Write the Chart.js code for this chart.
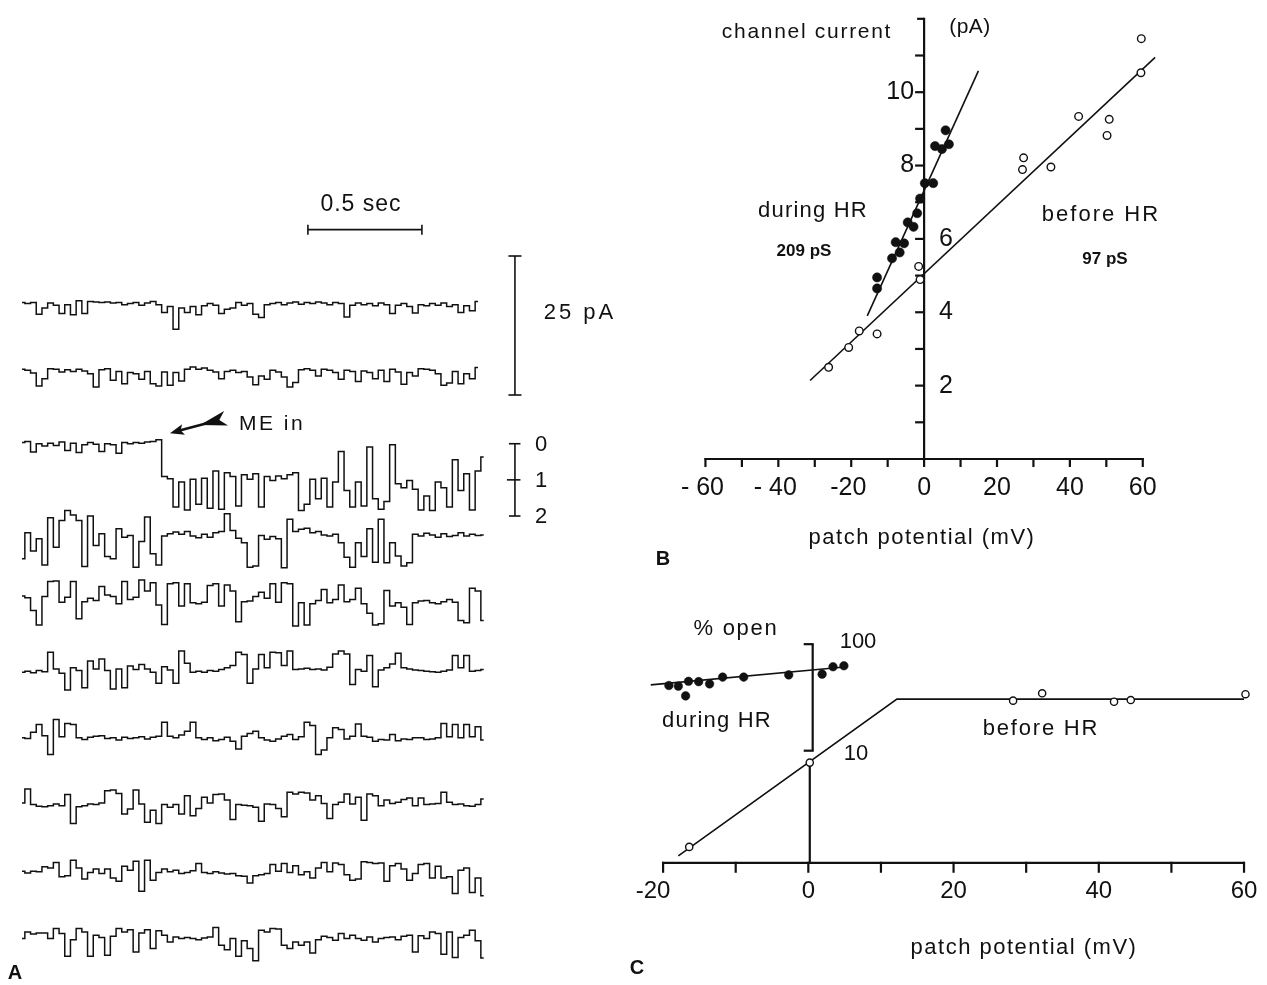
<!DOCTYPE html>
<html>
<head>
<meta charset="utf-8">
<title>Single channel currents before and during HR</title>
<script src="https://cdn.jsdelivr.net/npm/chart.js@4.4.1/dist/chart.umd.min.js"></script>
<style>
  html, body { margin:0; padding:0; background:#fff; }
  #fig { position:relative; width:1267px; height:985px; overflow:hidden; background:#fff;
         font-family:"Liberation Sans", Arial, sans-serif; color:#111; }
  #fig canvas { position:absolute; }
  .t { position:absolute; white-space:nowrap; line-height:1; transform:translate(-50%,-50%); }
  .b { font-weight:bold; }
</style>
</head>
<body>
<div id="fig">
  <canvas id="cA" width="640" height="805" style="left:0;top:180px;"></canvas>
  <canvas id="cB" width="607" height="560" style="left:660px;top:0;"></canvas>
  <canvas id="cC" width="647" height="385" style="left:620px;top:600px;"></canvas>

  <!-- Panel A texts -->
  <div class="t" style="left:361px;top:203px;font-size:23px;letter-spacing:1px;">0.5 sec</div>
  <div class="t" style="left:580px;top:312px;font-size:22px;letter-spacing:3px;">25 pA</div>
  <div class="t" style="left:272px;top:422px;font-size:21px;letter-spacing:2.5px;">ME in</div>
  <div class="t" style="left:541px;top:444px;font-size:22px;">0</div>
  <div class="t" style="left:541px;top:480px;font-size:22px;">1</div>
  <div class="t" style="left:541px;top:516px;font-size:22px;">2</div>
  <div class="t b" style="left:15px;top:972px;font-size:20px;">A</div>

  <!-- Panel B texts -->
  <div class="t" style="left:807px;top:30px;font-size:21px;letter-spacing:1.7px;">channel current</div>
  <div class="t" style="left:970px;top:25px;font-size:21px;letter-spacing:0.5px;">(pA)</div>
  <div class="t" style="left:813px;top:210px;font-size:22px;letter-spacing:1.2px;">during HR</div>
  <div class="t b" style="left:804px;top:250px;font-size:17px;">209 pS</div>
  <div class="t" style="left:1101px;top:214px;font-size:22px;letter-spacing:2px;">before HR</div>
  <div class="t b" style="left:1105px;top:258px;font-size:17px;">97 pS</div>
  <div class="t" style="left:922px;top:537px;font-size:22px;letter-spacing:1.5px;">patch potential (mV)</div>
  <div class="t b" style="left:663px;top:558px;font-size:20px;">B</div>

  <!-- Panel C texts -->
  <div class="t" style="left:736px;top:628px;font-size:22px;letter-spacing:1.7px;">% open</div>
  <div class="t" style="left:858px;top:641px;font-size:22px;">100</div>
  <div class="t" style="left:856px;top:753px;font-size:22px;">10</div>
  <div class="t" style="left:717px;top:720px;font-size:22px;letter-spacing:1.2px;">during HR</div>
  <div class="t" style="left:1041px;top:728px;font-size:22px;letter-spacing:1.8px;">before HR</div>
  <div class="t" style="left:1024px;top:947px;font-size:22px;letter-spacing:1.5px;">patch potential (mV)</div>
  <div class="t b" style="left:637px;top:967px;font-size:20px;">C</div>
</div>

<script>
// ================= DATA =================
// Panel A: single-channel current traces (pA deviation from each sweep's resting level), sampled every traceDt seconds
const traceDt = 0.025;
const trace1 = [0.2,0.0,0.2,-1.9,-0.8,0.1,-0.3,-1.8,-0.2,-2.0,
  0.5,-1.8,0.4,0.3,0.2,0.3,0.1,0.2,-0.2,0.0,
  0.2,-0.3,0.1,0.4,-0.2,-1.6,-0.5,-4.6,-0.8,-1.6,
  -0.5,-2.0,-0.4,0.0,-0.3,-1.8,-1.0,-0.8,0.2,-0.3,
  0.0,-1.9,-2.5,-0.2,0.0,0.2,-0.2,0.1,0.3,-0.1,
  0.2,0.0,0.3,0.1,-0.2,0.2,0.0,-2.4,-0.3,0.1,
  -0.2,0.0,-0.4,0.1,-0.2,-1.8,-0.3,0.0,-0.5,-1.7,
  -0.2,-0.4,0.0,-0.3,0.1,-0.5,-0.2,-1.6,-0.4,-1.3,
  0.4];
const trace2 = [0.2,0.0,-0.5,-2.8,-1.5,0.3,0.2,-0.3,0.1,-0.2,
  0.2,-0.1,-0.6,-3.0,0.1,0.3,-1.8,-0.2,-2.4,-0.4,
  -0.6,-1.6,-0.2,-2.4,-2.8,-0.3,-2.7,-0.4,-1.9,0.2,
  0.6,0.2,0.4,0.0,-0.3,-1.5,-0.2,0.0,-0.4,-0.2,
  -1.2,-2.6,-1.0,-1.6,0.0,-0.3,-1.2,-3.0,-2.2,0.1,
  0.3,0.0,-1.0,0.2,0.0,-0.4,-1.6,0.0,-0.2,-2.0,
  -0.1,-0.4,-1.5,0.0,-2.0,0.2,-0.3,-2.5,-0.4,-1.0,
  0.3,0.2,0.0,-0.6,-2.7,-2.3,-0.2,-2.4,-0.6,-1.5,
  0.5];
const trace3 = [-0.4,-0.2,-2.1,-0.6,-1.0,-0.5,-0.9,-0.3,-1.8,-0.5,
  -2.2,-0.8,-0.4,-0.7,-2.0,-0.6,-0.8,-2.3,-0.4,-0.6,
  -0.4,-0.5,-0.3,-0.2,0.1,-6.5,-6.9,-12.0,-7.5,-12.5,
  -7.0,-11.5,-6.8,-12.2,-5.5,-12.4,-5.8,-6.5,-11.8,-6.2,
  -7.0,-6.0,-12.0,-6.5,-7.2,-6.4,-6.9,-6.2,-5.8,-12.6,
  -11.5,-7.0,-10.5,-6.8,-12.0,-7.5,-2.0,-9.0,-12.0,-7.5,
  -11.8,-1.2,-10.5,-12.4,-11.0,-0.8,-7.8,-8.5,-7.2,-8.8,
  -12.5,-10.0,-12.6,-7.5,-8.5,-12.0,-3.5,-9.0,-6.0,-12.5,
  -5.5,-3.0];
const trace4 = [-3.9,0.8,-2.5,-0.3,-5.0,3.5,-1.8,3.0,4.8,4.0,
  3.0,-5.3,3.8,-1.5,0.6,-3.5,-3.9,1.5,0.0,0.3,
  -5.4,-0.8,3.6,-3.0,-5.0,0.2,0.6,0.9,0.5,1.0,
  0.2,-0.1,0.5,0.0,0.8,1.0,4.2,1.2,-0.2,-1.0,
  -5.4,-5.2,0.3,-0.4,0.1,-0.3,-5.5,3.2,1.0,1.4,
  1.6,0.8,1.0,0.4,0.2,0.5,-1.0,-3.6,-5.4,-1.0,
  -3.5,1.5,-4.5,3.2,-4.6,-1.0,-3.4,-5.2,-4.6,0.5,
  0.2,0.7,0.4,0.0,0.6,0.1,0.3,0.8,0.2,0.5,
  0.3,0.4];
const trace5 = [0.6,0.3,-2.0,-4.6,0.5,3.2,3.3,-0.5,0.4,3.2,
  -3.5,-0.4,0.2,-0.2,2.3,0.8,0.5,-0.8,3.2,0.0,
  0.4,3.5,1.5,3.0,-1.0,-4.5,2.8,3.0,-1.2,2.8,
  -0.6,-0.8,-0.5,2.5,2.8,-1.2,2.6,1.5,-4.0,-0.4,
  -0.3,0.5,1.3,0.2,2.8,-0.5,3.0,2.8,-4.8,-0.6,
  -4.6,-0.8,-0.2,1.8,-0.6,0.0,2.6,-0.4,0.0,2.0,
  -0.8,-2.5,-4.6,-4.4,1.6,-1.2,-0.6,-1.4,-4.5,-0.6,
  -0.3,-0.2,-0.6,-0.8,-0.4,0.0,-0.5,-3.8,-4.2,2.0,
  1.5,-3.8];
const trace6 = [0.0,0.2,-0.1,0.3,0.1,3.6,0.6,-0.2,-3.2,0.8,
  0.3,-2.8,2.0,0.6,2.4,0.3,-3.0,0.6,-2.8,1.1,
  0.5,1.4,0.6,0.0,-2.0,1.0,0.4,-2.0,3.8,1.6,
  0.0,0.2,0.0,0.3,0.2,0.5,0.8,1.2,3.6,3.2,
  -2.0,0.6,3.2,0.8,3.6,3.5,1.2,3.8,0.5,0.6,
  0.7,0.5,0.6,0.4,0.9,3.3,3.8,3.3,-2.2,0.5,
  0.2,3.0,-2.6,0.4,0.8,1.5,3.4,0.8,0.6,0.4,
  0.3,0.2,0.1,0.0,0.2,0.4,3.0,0.8,3.0,0.2,
  0.3,0.5];
const trace7 = [0.0,-0.1,1.0,2.4,0.4,-3.0,3.3,0.2,2.6,2.4,
  0.0,-0.3,0.1,0.3,0.4,-0.1,0.0,-0.4,0.1,-0.1,
  0.0,0.2,-0.2,0.1,0.3,2.8,0.3,0.0,0.5,1.2,
  2.8,0.0,-0.3,0.0,-0.5,-0.3,0.1,-0.6,-2.0,0.3,
  0.8,1.2,0.0,-0.4,-0.6,-0.2,0.3,0.6,-0.3,0.2,
  2.8,2.2,-3.0,-2.2,0.0,1.8,1.5,-0.2,0.3,2.5,
  0.3,0.1,-0.6,-0.3,-0.4,0.6,-0.5,-0.2,-0.3,0.0,
  0.0,-0.3,-0.2,0.0,2.6,0.2,2.4,0.0,2.4,0.2,
  2.0,-0.4];
const trace8 = [0.5,3.0,0.2,-0.1,-0.2,0.0,0.3,0.0,2.0,-3.2,
  -0.2,0.0,0.3,0.2,0.5,2.7,2.8,2.2,-1.5,-0.6,
  2.8,0.3,-3.0,-0.8,-3.2,0.2,-0.3,0.2,-1.5,1.8,
  -1.8,-0.5,1.5,0.5,2.0,2.1,1.0,-2.5,0.2,0.1,
  0.0,-0.3,-2.8,0.3,0.2,-0.5,-2.0,2.4,2.1,2.4,
  2.3,1.0,1.8,0.4,-2.3,0.2,0.6,2.1,0.3,1.5,
  -2.6,2.1,1.8,0.0,1.0,0.4,0.6,1.1,1.4,0.0,
  1.4,0.2,0.3,0.4,2.4,0.6,0.2,0.3,0.0,-0.1,
  0.2,1.2];
const trace9 = [0.6,0.3,0.6,0.5,1.4,1.2,2.2,-0.4,-0.2,2.6,
  1.2,-0.8,0.4,1.0,0.2,1.0,-0.6,-1.2,1.5,0.8,
  2.4,-3.0,2.6,-1.0,0.4,1.0,0.5,0.8,0.2,0.4,
  0.7,2.0,0.4,0.2,0.5,0.3,0.1,0.2,-0.2,-0.3,
  -1.5,-0.2,0.0,0.2,1.8,0.6,2.0,0.4,1.6,0.0,
  0.5,-0.6,1.2,2.2,0.5,2.1,1.8,0.0,-1.0,-0.8,
  2.3,2.2,2.0,2.1,-1.2,1.6,2.0,1.0,-1.0,0.2,
  1.8,2.0,-0.6,1.5,-0.6,-0.4,-3.4,0.8,1.2,-3.2,
  -0.6,-3.8];
const trace10 = [0.0,1.2,0.8,1.0,1.0,0.0,1.8,0.9,-3.2,-0.2,
  1.8,1.2,-3.2,0.6,0.2,-3.0,0.4,1.8,1.2,1.6,
  -2.4,1.0,1.6,-1.8,1.4,0.6,-0.6,0.3,0.0,0.2,
  0.0,-0.2,0.1,0.3,2.0,-1.2,-2.0,0.0,-3.2,-0.4,
  -1.8,-4.0,1.5,1.2,1.8,1.7,-1.2,-1.8,-0.6,-1.2,
  -0.6,-2.6,-0.2,0.4,0.2,-0.3,0.9,0.0,0.6,0.0,
  -0.3,0.3,-0.6,0.0,0.2,0.3,-0.2,0.4,0.6,-2.4,
  0.5,0.0,1.2,0.9,-2.8,1.2,-3.4,0.2,0.6,1.5,
  -0.4,-3.5];
const timeBarSeconds = 0.5;
const currentBarPA = 25;
const channelLevels = [0, 1, 2];
const unitaryCurrentPA = 6.5;

// Panel B: channel current (pA) vs patch potential (mV)
const bDuringX = [-12.9,-12.9,-8.8,-7.8,-6.7,-5.5,-4.5,-2.9,-1.9,-1.1,0.2,2.5,3.0,4.9,5.9,6.8];
const bDuringY = [4.95,4.65,5.47,5.91,5.63,5.88,6.45,6.33,6.70,7.10,7.52,7.52,8.53,8.45,8.96,8.58];
const bBeforeX = [-26.2,-20.7,-17.8,-12.9,-1.5,-1.1,27.0,27.3,34.8,42.4,50.2,50.8,59.5,59.6];
const bBeforeY = [2.50,3.04,3.49,3.41,5.25,4.89,7.89,8.21,7.96,9.34,8.82,9.26,10.53,11.46];
const bDuringFitX = [-15.6, 14.9];
const bDuringFitY = [3.90, 10.58];
const bBeforeFitX = [-31.3, 63.4];
const bBeforeFitY = [2.14, 10.95];
const bXTicks = [-60,-50,-40,-30,-20,-10,0,10,20,30,40,50,60];
const bXLabelValues = [-60,-40,-20,0,20,40,60];
const bXLabels = ['- 60','- 40','-20','0','20','40','60'];
const bYTicks = [1,2,3,4,5,6,7,8,9,10,11,12];
const bYLabelValues = [2,4,6,8,10];
const bYAxisTop = 12.03;

// Panel C: % open (log) vs patch potential (mV)
const cDuringX = [-19.2,-17.9,-16.9,-16.5,-15.1,-13.6,-11.8,-8.9,-2.7,1.9,3.4,4.9];
const cDuringY = [40.9,40.4,32.7,44.8,44.5,42.4,49.1,49.1,51.5,52.3,61.4,62.7];
const cBeforeX = [-16.4,0.2,28.2,32.2,42.1,44.4,60.2];
const cBeforeY = [1.25,7.73,29.5,34.6,28.8,29.9,33.9];
const cBeforeFitX = [-17.9, 12.2, 60.0];
const cBeforeFitY = [1.03, 30.5, 30.5];
const cDuringFitX = [-21.7, 5.0];
const cDuringFitY = [41.5, 61.0];
const cXTicks = [-20,-10,0,10,20,30,40,50,60];
const cXLabelValues = [-20,0,20,40,60];
const cXLabels = ['-20','0','20','40','60'];
const cBracketValues = [10, 100];
const cAxisCross = 0.887;

// ================= LAYOUT =================
const layoutA = {
  x: [-0.0965, 2.7105], y: [-122.55, 22.23],
  sweepOffsets: [0, -12.0, -24.6, -42.0, -53.2, -66.3, -78.1, -90.3, -102.7, -114.2],
  timeBar: { t0: 1.254, v: 13.3 },
  currentBar: { t: 2.162, vTop: 8.56 },
  levelBar: { t: 2.162, v0: -25.2 },
  arrow: { tipT: 0.649, tipV: -23.3, tailT: 0.895, tailV: -20.6 }
};
const layoutB = { x: [-70.99, 92.61], y: [-2.607, 12.366] };
const layoutC = { x: [-25.19, 62.42], y: [0.0710, 231.2], bracketX: 0.6, stemX: 0.2 };

// ================= HELPERS =================
const INK = '#111';
function zipXY(xs, ys) { return xs.map((x, i) => ({ x: x, y: ys[i] })); }
function seg(ctx, x1, y1, x2, y2) { ctx.beginPath(); ctx.moveTo(x1, y1); ctx.lineTo(x2, y2); ctx.stroke(); }
function baseOptions(xr, yr, ytype) {
  return {
    responsive: false, maintainAspectRatio: false, animation: false, events: [],
    devicePixelRatio: 1, layout: { padding: 0 },
    plugins: { legend: { display: false }, tooltip: { enabled: false }, title: { display: false } },
    scales: {
      x: { type: 'linear', display: false, min: xr[0], max: xr[1] },
      y: { type: ytype || 'linear', display: false, min: yr[0], max: yr[1] }
    }
  };
}
function fitLine(xs, ys) {
  return { data: zipXY(xs, ys), showLine: true, pointRadius: 0, borderColor: INK, borderWidth: 1.6, order: 3 };
}
function filledPts(xs, ys, r) {
  return { data: zipXY(xs, ys), showLine: false, pointRadius: r, pointBackgroundColor: INK,
           pointBorderColor: INK, pointBorderWidth: 0.5, order: 1 };
}
function openPts(xs, ys, r) {
  return { data: zipXY(xs, ys), showLine: false, pointRadius: r, pointBackgroundColor: '#fff',
           pointBorderColor: INK, pointBorderWidth: 1.4, order: 1 };
}

// ================= PANEL A =================
const traces = [trace1, trace2, trace3, trace4, trace5, trace6, trace7, trace8, trace9, trace10];
const panelAPlugin = {
  id: 'panelA',
  afterDatasetsDraw(chart) {
    const ctx = chart.ctx, sx = chart.scales.x, sy = chart.scales.y;
    const X = v => sx.getPixelForValue(v), Y = v => sy.getPixelForValue(v);
    ctx.save();
    ctx.strokeStyle = INK; ctx.fillStyle = INK; ctx.lineWidth = 1.6;
    // time scale bar
    const tb = layoutA.timeBar;
    const tx0 = X(tb.t0), tx1 = X(tb.t0 + timeBarSeconds), ty = Y(tb.v);
    seg(ctx, tx0, ty, tx1, ty); seg(ctx, tx0, ty - 5, tx0, ty + 5); seg(ctx, tx1, ty - 5, tx1, ty + 5);
    // current scale bar
    const cb = layoutA.currentBar;
    const cx = X(cb.t), cy0 = Y(cb.vTop), cy1 = Y(cb.vTop - currentBarPA);
    seg(ctx, cx, cy0, cx, cy1); seg(ctx, cx - 6.5, cy0, cx + 6.5, cy0); seg(ctx, cx - 6.5, cy1, cx + 6.5, cy1);
    // channel level bar (0,1,2)
    const lb = layoutA.levelBar;
    const lx = X(lb.t);
    const lys = channelLevels.map(n => Y(lb.v0 - n * unitaryCurrentPA));
    seg(ctx, lx, lys[0], lx, lys[lys.length - 1]);
    lys.forEach((y, i) => { const w = (i === 1) ? 8 : 6; seg(ctx, lx - w, y, lx + 5.5, y); });
    // ME in arrow
    const a = layoutA.arrow;
    const ax = X(a.tipT), ay = Y(a.tipV), bx = X(a.tailT), by = Y(a.tailV);
    const L = Math.hypot(bx - ax, by - ay), ux = (bx - ax) / L, uy = (by - ay) / L, nx = -uy, ny = ux;
    ctx.lineWidth = 2.6;
    seg(ctx, ax + ux * 8, ay + uy * 8, bx - ux * 16, by - uy * 16);
    ctx.beginPath();
    ctx.moveTo(ax, ay);
    ctx.lineTo(ax + ux * 14 + nx * 5.5, ay + uy * 14 + ny * 5.5);
    ctx.lineTo(ax + ux * 11, ay + uy * 11);
    ctx.lineTo(ax + ux * 14 - nx * 5.5, ay + uy * 14 - ny * 5.5);
    ctx.closePath(); ctx.fill();
    ctx.beginPath();
    ctx.moveTo(bx - ux * 27, by - uy * 27);
    ctx.lineTo(bx + nx * 7.5, by + ny * 7.5);
    ctx.lineTo(bx - ux * 7, by - uy * 7);
    ctx.lineTo(bx - nx * 7.5, by - ny * 7.5);
    ctx.closePath(); ctx.fill();
    ctx.restore();
  }
};
new Chart(document.getElementById('cA'), {
  type: 'scatter',
  data: {
    datasets: traces.map((tr, k) => ({
      data: tr.map((v, i) => ({ x: i * traceDt, y: v + layoutA.sweepOffsets[k] })),
      showLine: true, pointRadius: 0, borderColor: INK, borderWidth: 1.5,
      borderJoinStyle: 'miter', stepped: 'middle', tension: 0
    }))
  },
  options: baseOptions(layoutA.x, layoutA.y),
  plugins: [panelAPlugin]
});

// ================= PANEL B =================
const panelBPlugin = {
  id: 'panelB',
  beforeDatasetsDraw(chart) {
    const ctx = chart.ctx, sx = chart.scales.x, sy = chart.scales.y;
    const X = v => sx.getPixelForValue(v), Y = v => sy.getPixelForValue(v);
    ctx.save();
    ctx.strokeStyle = INK; ctx.fillStyle = INK; ctx.lineWidth = 2.2; ctx.lineCap = 'butt';
    const x0 = X(0), y0 = Y(0);
    seg(ctx, X(bXTicks[0]) - 1, y0, X(bXTicks[bXTicks.length - 1]) + 1, y0);
    bXTicks.forEach(v => seg(ctx, X(v), y0 - 1, X(v), y0 + 8));
    seg(ctx, x0, y0, x0, Y(bYAxisTop));
    bYTicks.forEach(v => seg(ctx, x0 - (v === 12 ? 7 : 9), Y(v), x0, Y(v)));
    ctx.font = '25px "Liberation Sans", Arial, sans-serif';
    ctx.textBaseline = 'middle'; ctx.textAlign = 'center';
    bXLabelValues.forEach((v, i) => ctx.fillText(bXLabels[i], X(v) - (v < 0 ? 3 : 0), y0 + 29));
    bYLabelValues.forEach(v => {
      if (v >= 8) { ctx.textAlign = 'right'; ctx.fillText(String(v), x0 - 10, Y(v)); }
      else { ctx.textAlign = 'left'; ctx.fillText(String(v), x0 + 15, Y(v)); }
    });
    ctx.restore();
  }
};
new Chart(document.getElementById('cB'), {
  type: 'scatter',
  data: {
    datasets: [
      filledPts(bDuringX, bDuringY, 4.6),
      openPts(bBeforeX, bBeforeY, 3.8),
      fitLine(bDuringFitX, bDuringFitY),
      fitLine(bBeforeFitX, bBeforeFitY)
    ]
  },
  options: baseOptions(layoutB.x, layoutB.y),
  plugins: [panelBPlugin]
});

// ================= PANEL C =================
const panelCPlugin = {
  id: 'panelC',
  beforeDatasetsDraw(chart) {
    const ctx = chart.ctx, sx = chart.scales.x, sy = chart.scales.y;
    const X = v => sx.getPixelForValue(v), Y = v => sy.getPixelForValue(v);
    ctx.save();
    ctx.strokeStyle = INK; ctx.fillStyle = INK; ctx.lineWidth = 2.2; ctx.lineCap = 'butt';
    const y0 = Y(cAxisCross);
    seg(ctx, X(cXTicks[0]) - 1, y0, X(cXTicks[cXTicks.length - 1]) + 1, y0);
    cXTicks.forEach(v => seg(ctx, X(v), y0 - 1, X(v), y0 + 10));
    // lower stem from the 0 mV point down to the axis
    seg(ctx, X(layoutC.stemX), Y(cBeforeY[1]), X(layoutC.stemX), y0);
    // 10-100 % bracket
    const bxp = X(layoutC.bracketX);
    seg(ctx, bxp, Y(cBracketValues[0]), bxp, Y(cBracketValues[1]));
    cBracketValues.forEach(v => seg(ctx, bxp - 9, Y(v), bxp + 1, Y(v)));
    ctx.font = '24px "Liberation Sans", Arial, sans-serif';
    ctx.textBaseline = 'middle'; ctx.textAlign = 'center';
    cXLabelValues.forEach((v, i) => ctx.fillText(cXLabels[i], X(v) - (v < 0 ? 10 : 0), y0 + 29));
    ctx.restore();
  }
};
new Chart(document.getElementById('cC'), {
  type: 'scatter',
  data: {
    datasets: [
      filledPts(cDuringX, cDuringY, 4.3),
      openPts(cBeforeX, cBeforeY, 3.6),
      fitLine(cDuringFitX, cDuringFitY),
      fitLine(cBeforeFitX, cBeforeFitY)
    ]
  },
  options: baseOptions(layoutC.x, layoutC.y, 'logarithmic'),
  plugins: [panelCPlugin]
});
</script>
</body>
</html>
